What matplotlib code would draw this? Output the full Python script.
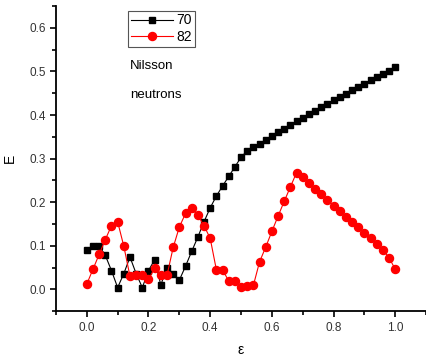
import matplotlib
matplotlib.use("Agg")
import numpy as np
import matplotlib.pyplot as plt
from matplotlib.ticker import MultipleLocator

plt.rcParams['font.family'] = ['Liberation Sans', 'DejaVu Sans']

# deformation parameter
eps = np.round(np.arange(0, 51) * 0.02, 2)

# N = 70
e70 = [0.091, 0.100, 0.100, 0.078, 0.043, 0.004, 0.036, 0.074, 0.036, 0.004,
       0.043, 0.068, 0.010, 0.050, 0.036, 0.021, 0.053, 0.087, 0.120, 0.155,
       0.187, 0.214, 0.237, 0.259, 0.281, 0.303, 0.318, 0.326, 0.334, 0.343,
       0.351, 0.360, 0.369, 0.377, 0.386, 0.394, 0.402, 0.410, 0.418, 0.426,
       0.434, 0.441, 0.449, 0.457, 0.464, 0.472, 0.480, 0.487, 0.494, 0.502,
       0.510]

# N = 82
e82 = [0.012, 0.046, 0.080, 0.114, 0.146, 0.155, 0.099, 0.030, 0.034, 0.032,
       0.023, 0.048, 0.034, 0.032, 0.096, 0.143, 0.174, 0.186, 0.170, 0.146,
       0.117, 0.045, 0.045, 0.019, 0.019, 0.005, 0.007, 0.009, 0.063, 0.097,
       0.133, 0.168, 0.202, 0.235, 0.268, 0.257, 0.244, 0.231, 0.218, 0.205,
       0.192, 0.180, 0.167, 0.155, 0.142, 0.129, 0.117, 0.104, 0.091, 0.072,
       0.046]

fig = plt.figure(figsize=(4.27, 3.58), dpi=100)
ax = fig.add_axes([0.131, 0.131, 0.867, 0.852])

ax.plot(eps, e70, color='black', marker='s', markersize=5, lw=0.8, label='70')
ax.plot(eps, e82, color='red', marker='o', markersize=5.8, lw=0.8, label='82')

ax.set_xlim(-0.1, 1.1)
ax.set_ylim(-0.05, 0.65)
ax.xaxis.set_major_locator(MultipleLocator(0.2))
ax.xaxis.set_minor_locator(MultipleLocator(0.1))
ax.yaxis.set_major_locator(MultipleLocator(0.1))
ax.yaxis.set_minor_locator(MultipleLocator(0.05))
ax.tick_params(which='both', direction='out', labelsize=8.5, labelcolor='#333333', width=1.2)
ax.tick_params(which='major', length=4)
ax.tick_params(which='minor', length=3)

ax.spines['top'].set_visible(False)
ax.spines['right'].set_visible(False)
ax.spines['left'].set_linewidth(1.3)
ax.spines['bottom'].set_linewidth(1.3)

ax.set_xlabel('ε', fontsize=10, labelpad=7)
ax.set_ylabel('E', fontsize=10, labelpad=9)

ax.text(0.14, 0.505, 'Nilsson', fontsize=9.5)
ax.text(0.14, 0.44, 'neutrons', fontsize=9.5)

leg = ax.legend(loc='upper left', bbox_to_anchor=(0.195, 0.985), borderaxespad=0,
                fontsize=10, fancybox=False, framealpha=1, edgecolor='#555555',
                handlelength=3, handletextpad=0.3, borderpad=0.2, labelspacing=0.2)
leg.get_frame().set_linewidth(0.8)

fig.savefig('out.png', dpi=100)
